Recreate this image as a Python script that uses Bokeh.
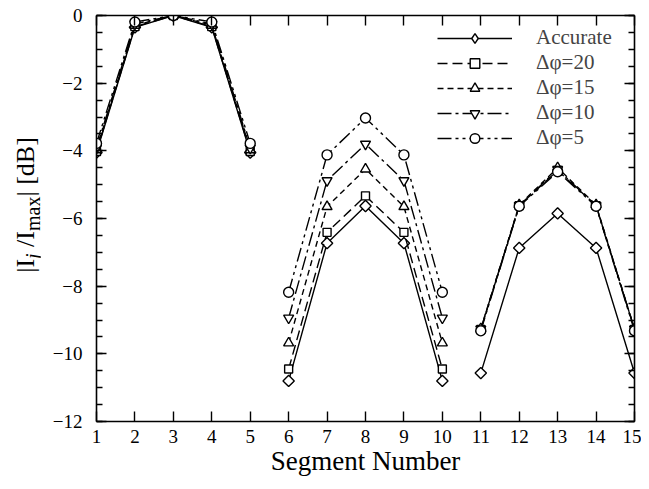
from math import pi
import numpy as np
from bokeh.plotting import figure
from bokeh.layouts import row
from bokeh.models import (LinearAxis, FixedTicker, Range1d, Legend, LegendItem, Div,
                          CustomJSTickFormatter)
from bokeh.embed import file_html
from bokeh.resources import INLINE

# ---------------- data ----------------
segments = list(range(1, 16))
accurate = [-4.05, -0.35, 0.0, -0.35, -4.05, -10.80, -6.73, -5.63, -6.73, -10.80, -10.57, -6.87, -5.85, -6.87, -10.57]
dphi20 = [-4.02, -0.33, 0.0, -0.33, -4.02, -10.45, -6.41, -5.33, -6.41, -10.45, -9.28, -5.62, -4.58, -5.62, -9.28]
dphi15 = [-3.97, -0.29, 0.0, -0.29, -3.97, -9.68, -5.65, -4.54, -5.65, -9.68, -9.26, -5.60, -4.50, -5.60, -9.26]
dphi10 = [-3.92, -0.25, 0.0, -0.25, -3.92, -8.94, -4.88, -3.80, -4.88, -8.94, -9.27, -5.62, -4.55, -5.62, -9.27]
dphi5 = [-3.78, -0.19, 0.0, -0.19, -3.78, -8.18, -4.12, -3.03, -4.12, -8.18, -9.32, -5.64, -4.62, -5.64, -9.32]
series_labels = ["Accurate", "Δφ=20", "Δφ=15", "Δφ=10", "Δφ=5"]
series_values = [accurate, dphi20, dphi15, dphi10, dphi5]
x_ticks = list(range(1, 16))
y_ticks = [0, -2, -4, -6, -8, -10, -12]
y_minor = [v * 0.5 for v in range(-24, 1)]
groups = [(0, 5), (5, 10), (10, 15)]

FONT = "Liberation Serif"

# ---------------- styles ----------------
dashes = ["solid", "10 5", "6 4", "14 4 3 4", "14 4 3 4 3 4"]
markers = [("square", pi / 4, 8), ("square", 0, 8), ("triangle", 0, 10),
           ("inverted_triangle", 0, 10), ("circle", 0, 10)]
legend_markers = [("diamond", 13), ("square", 8), ("triangle", 10),
                  ("inverted_triangle", 10), ("circle", 10)]

LABEL_W = 40
p = figure(width=641 - LABEL_W, height=481, output_backend="svg", toolbar_location=None,
           x_range=Range1d(1, 15), y_range=Range1d(-12, 0),
           min_border_left=96 - LABEL_W, min_border_right=7, min_border_top=15,
           min_border_bottom=60)
p.outline_line_color = None
p.grid.visible = False
p.background_fill_color = "white"
p.border_fill_color = "white"

xaxis = p.xaxis[0]
yaxis = p.yaxis[0]
top_axis = LinearAxis()
right_axis = LinearAxis()
p.add_layout(top_axis, "above")
p.add_layout(right_axis, "right")

for ax in [xaxis, top_axis]:
    ax.ticker = FixedTicker(ticks=x_ticks, minor_ticks=[])
for ax in [yaxis, right_axis]:
    ax.ticker = FixedTicker(ticks=y_ticks, minor_ticks=y_minor)

for ax in [xaxis, yaxis, top_axis, right_axis]:
    ax.axis_line_width = 1.6
    ax.axis_line_color = "black"
    ax.major_tick_in = 10
    ax.major_tick_out = 0
    ax.minor_tick_in = 6
    ax.minor_tick_out = 0
    ax.major_tick_line_width = 1.4
    ax.minor_tick_line_width = 1.4
    ax.major_tick_line_color = "black"
    ax.minor_tick_line_color = "black"
    ax.major_label_text_font = FONT
    ax.major_label_text_font_size = "19px"
    ax.major_label_text_color = "black"
    ax.axis_label_text_font = FONT
    ax.axis_label_text_font_style = "normal"
    ax.axis_label_text_color = "black"

for ax in [top_axis, right_axis]:
    ax.formatter = CustomJSTickFormatter(code="return ''")
    ax.major_label_standoff = 0

xaxis.major_label_standoff = 8
xaxis.axis_label = "Segment Number"
xaxis.axis_label_text_font_size = "27px"
xaxis.axis_label_standoff = 0
yaxis.major_label_standoff = 14

# ---------------- series ----------------
items = []
for vals, lab, dash, (mk, ang, sz), (lmk, lsz) in zip(series_values, series_labels, dashes,
                                                     markers, legend_markers):
    rends = []
    for a, b in groups:
        r = p.line(segments[a:b], vals[a:b], line_color="black", line_width=1.4, line_dash=dash)
        rends.append(r)
    p.scatter(segments, vals, marker=mk, angle=ang, size=sz, line_color="black",
              line_width=1.4, fill_color="white")
    # legend-only marker (not plotted: y is NaN)
    proxy = p.scatter(x=np.array([segments[0]], dtype=float), y=np.array([np.nan]),
                      marker=lmk, size=lsz, line_color="black",
                      line_width=1.4, fill_color="white")
    items.append(LegendItem(label=lab, renderers=[rends[0], proxy]))

legend = Legend(items=items, location=(341, 271), padding=0, margin=0, spacing=0,
                glyph_width=75, glyph_height=24, label_height=24, label_standoff=24,
                label_text_font=FONT, label_text_font_size="21px",
                border_line_color=None, background_fill_alpha=0)
p.add_layout(legend, "center")

# ---------------- y-axis label (rotated HTML text with subscripts) ----------------
ylabel_html = (
    f'<div style="position:relative;width:{LABEL_W}px;height:481px;">'
    '<div style="position:absolute;left:28px;top:205px;'
    'transform:translate(-50%,-50%) rotate(-90deg);white-space:nowrap;'
    f"font-family:'{FONT}';font-size:26px;line-height:1;color:black;\">"
    '|I<span style="font-size:20px;font-style:italic;vertical-align:-6px;">j</span>'
    '&nbsp;/I<span style="font-size:20px;vertical-align:-6px;">max</span>| [dB]'
    '</div></div>'
)
ylabel = Div(text=ylabel_html, width=LABEL_W, height=481, margin=0)

layout = row(ylabel, p, spacing=0)
open("out.html", "w").write(file_html(layout, INLINE))
